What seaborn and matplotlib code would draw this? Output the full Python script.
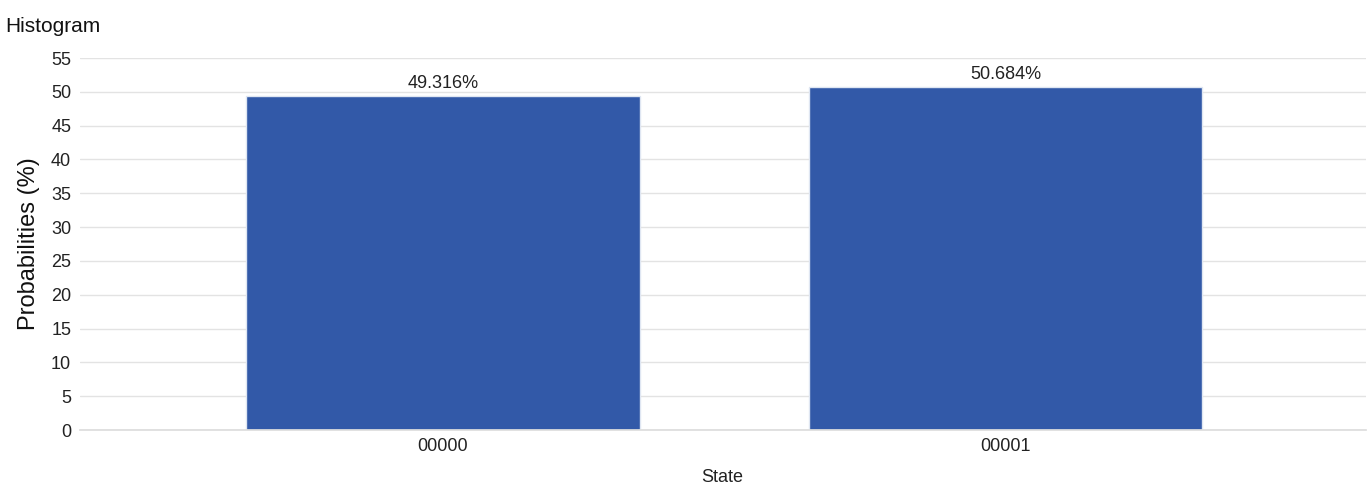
import matplotlib
matplotlib.use("Agg")
import matplotlib.pyplot as plt
import seaborn as sns
import pandas as pd

states = ["00000", "00001"]
probs = [49.316, 50.684]
labels = ["49.316%", "50.684%"]

sns.set_theme(style="whitegrid")
plt.rcParams['font.family'] = ['Liberation Sans', 'DejaVu Sans']

fig = plt.figure(figsize=(13.71, 4.92), dpi=100)
ax = fig.add_axes([0.058, 0.126, 0.938, 0.756])
df = pd.DataFrame({"State": states, "p": probs})
sns.barplot(data=df, x="State", y="p", color="#3259a8", saturation=1, width=0.7,
            edgecolor="#dfe6f2", linewidth=1, ax=ax)
for i, (v, t) in enumerate(zip(probs, labels)):
    ax.text(i, v + 0.6, t, ha="center", va="bottom", fontsize=13, color="#222222")
ax.set_ylim(0, 55)
ax.set_xlim(-0.646, 1.64)
ax.set_yticks(range(0, 56, 5))
ax.grid(axis="y", color="#e3e3e3", linewidth=1)
ax.grid(axis="x", visible=False)
for s in ["top", "right", "left"]:
    ax.spines[s].set_visible(False)
ax.spines["bottom"].set_color("#dddddd")
ax.tick_params(axis="both", labelsize=13, colors="#222222", length=0, pad=6)
ax.set_xlabel("State", fontsize=13, color="#222222", labelpad=10)
ax.set_ylabel("Probabilities (%)", fontsize=17, color="#111111", labelpad=8)
fig.text(0.004, 0.965, "Histogram", fontsize=15, color="#111111", va="top", ha="left")
fig.savefig("out.png", dpi=100, facecolor="white")
